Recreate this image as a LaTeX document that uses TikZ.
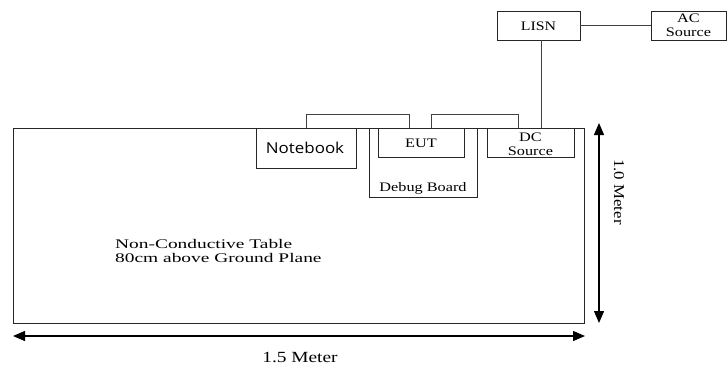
\documentclass[tikz,border=0pt]{standalone}
\usepackage{fontspec}
\usepackage{graphicx}
\setmainfont{Liberation Serif}
\newfontfamily\nbfont{Open Sans}
\usetikzlibrary{arrows.meta,calc}
\newcommand{\xs}[2]{\scalebox{#1}[1]{#2}}
\tikzset{
  box/.style={draw=black!85, line width=0.8pt, inner sep=0pt, fill=none},
  wire/.style={draw=black!75, line width=0.8pt},
  dim/.style={draw=black, line width=1.3pt, {Triangle[width=10pt,length=12pt]}-{Triangle[width=10pt,length=12pt]}},
  lbl/.style={inner sep=0pt, font=\fontsize{13}{14}\selectfont, align=center},
}
\begin{document}
\begin{tikzpicture}[x=1pt,y=-1pt]
\useasboundingbox (0,0) rectangle (727,367);
% boxes
\node[box, minimum width=571pt, minimum height=195pt] (table) at (298.5,225.5) {};
\node[box, minimum width=100pt, minimum height=40pt] (nb) at (306,148) {};
\node[box, minimum width=108pt, minimum height=69pt] (db) at (423,162.5) {};
\node[box, minimum width=86pt, minimum height=29pt] (eut) at (421,142.5) {};
\node[box, minimum width=87pt, minimum height=29pt] (dc) at (530.5,142.5) {};
\node[box, minimum width=83pt, minimum height=29pt] (lisn) at (538.5,25.5) {};
\node[box, minimum width=75pt, minimum height=29pt] (ac) at (688.5,25.5) {};
% labels
\node[inner sep=0pt, font=\nbfont\fontsize{15}{16}\selectfont] (nbt) at (305,148) {\xs{1.13}{Notebook}};
\node[lbl] (eutt) at (421,143) {\xs{1.25}{EUT}};
\node[lbl] (dbt) at (423,188) {\xs{1.25}{Debug Board}};
\node[lbl] (dct) at (530.5,144) {\xs{1.25}{DC}\\\xs{1.25}{Source}};
\node[lbl] (lisnt) at (538.5,26) {\xs{1.22}{LISN}};
\node[lbl] (act) at (688.5,25.5) {\xs{1.25}{AC}\\\xs{1.25}{Source}};
\node[inner sep=0pt, anchor=base west, font=\fontsize{13.2}{13.5}\selectfont, align=left] (tt) at (115,262)
  {\xs{1.47}{Non-Conductive Table}\\\xs{1.47}{80cm above Ground Plane}};
% cables
\draw[wire] (nb.north) |- (306,114) -| ($(eut.north)+(-12,0)$);
\draw[wire] ($(eut.north)+(10,0)$) |- (431,114) -| ($(dc.north)+(-12.5,0)$);
\draw[wire] ($(lisn.south)+(2.5,0)$) -- ($(dc.north)+(10.5,0)$);
\draw[wire] (lisn.east) -- (ac.west);
% dimensions
\coordinate (vt) at (599,123);
\coordinate (vb) at (599,323);
\coordinate (hl) at (13,336);
\coordinate (hr) at (585,336);
\draw[dim] (vt) -- (vb);
\draw[dim] (hl) -- (hr);
\node[inner sep=0pt, rotate=-90, font=\fontsize{15}{16}\selectfont] (vm) at (619,192) {\xs{1.12}{1.0 Meter}};
\node[inner sep=0pt, font=\fontsize{15.5}{16}\selectfont] (hm) at (300,357) {\xs{1.25}{1.5 Meter}};
\end{tikzpicture}
\end{document}
